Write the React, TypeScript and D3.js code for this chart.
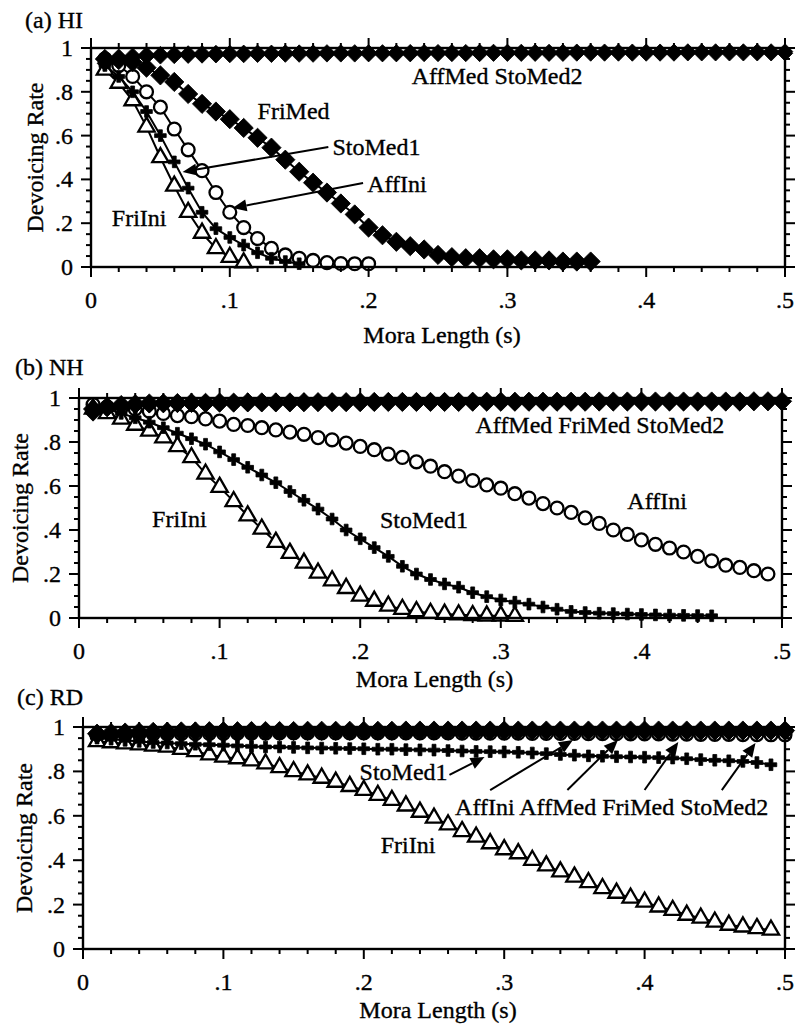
import * as d3 from "d3";

// mora length (s), one point every 10 ms
const moraLength = [
  0.01, 0.02, 0.03, 0.04, 0.05, 0.06, 0.07, 0.08, 0.09, 0.1,
  0.11, 0.12, 0.13, 0.14, 0.15, 0.16, 0.17, 0.18, 0.19, 0.2,
  0.21, 0.22, 0.23, 0.24, 0.25, 0.26, 0.27, 0.28, 0.29, 0.3,
  0.31, 0.32, 0.33, 0.34, 0.35, 0.36, 0.37, 0.38, 0.39, 0.4,
  0.41, 0.42, 0.43, 0.44, 0.45, 0.46, 0.47, 0.48, 0.49, 0.5,
];

const xTicks = [0, 0.1, 0.2, 0.3, 0.4, 0.5];
const xTickLabels = ["0", ".1", ".2", ".3", ".4", ".5"];
const yTicks = [0, 0.2, 0.4, 0.6, 0.8, 1];
const yTickLabels = ["0", ".2", ".4", ".6", ".8", "1"];

// (a) HI
const hiAffIni = [0.95, 0.92, 0.87, 0.8, 0.73, 0.63, 0.535, 0.44, 0.34, 0.25, 0.18, 0.13, 0.085, 0.055, 0.04, 0.03, 0.02, 0.016, 0.015, 0.015];
const hiAffMed = [
  0.95, 0.96, 0.965, 0.97, 0.972, 0.974, 0.975, 0.976, 0.977, 0.977,
  0.978, 0.978, 0.978, 0.979, 0.979, 0.979, 0.98, 0.98, 0.98, 0.98,
  0.98, 0.98, 0.981, 0.981, 0.981, 0.981, 0.981, 0.982, 0.982, 0.982,
  0.982, 0.982, 0.982, 0.982, 0.983, 0.983, 0.983, 0.983, 0.983, 0.983,
  0.983, 0.983, 0.984, 0.984, 0.984, 0.984, 0.984, 0.984, 0.984, 0.984,
];
const hiFriIni = [0.9, 0.84, 0.76, 0.64, 0.5, 0.37, 0.25, 0.155, 0.085, 0.045, 0.02];
const hiFriMed = [
  0.95, 0.945, 0.935, 0.91, 0.875, 0.845, 0.79, 0.745, 0.71, 0.675,
  0.635, 0.59, 0.545, 0.49, 0.435, 0.385, 0.34, 0.29, 0.24, 0.18,
  0.145, 0.115, 0.095, 0.08, 0.055, 0.045, 0.04, 0.04, 0.035, 0.035,
  0.03, 0.03, 0.03, 0.025, 0.025, 0.025,
];
const hiStoMed1 = [0.92, 0.87, 0.8, 0.71, 0.6, 0.48, 0.36, 0.25, 0.175, 0.135, 0.1, 0.065, 0.04, 0.025, 0.015];
const hiStoMed2 = [
  0.93, 0.945, 0.955, 0.96, 0.962, 0.964, 0.965, 0.966, 0.967, 0.968,
  0.968, 0.969, 0.969, 0.97, 0.97, 0.97, 0.971, 0.971, 0.971, 0.972,
  0.972, 0.972, 0.972, 0.973, 0.973, 0.973, 0.973, 0.973, 0.974, 0.974,
  0.974, 0.974, 0.974, 0.974, 0.975, 0.975, 0.975, 0.975, 0.975, 0.975,
  0.975, 0.975, 0.976, 0.976, 0.976, 0.976, 0.976, 0.976, 0.976, 0.976,
];

// (b) NH
const nhAffIni = [
  0.97, 0.96, 0.955, 0.95, 0.94, 0.93, 0.92, 0.915, 0.905, 0.895,
  0.88, 0.875, 0.865, 0.855, 0.845, 0.835, 0.82, 0.81, 0.795, 0.78,
  0.765, 0.745, 0.73, 0.71, 0.69, 0.665, 0.645, 0.625, 0.605, 0.59,
  0.565, 0.545, 0.52, 0.5, 0.48, 0.455, 0.43, 0.4, 0.38, 0.355,
  0.335, 0.318, 0.3, 0.28, 0.26, 0.24, 0.23, 0.215, 0.2,
];
const nhAffMed = [
  0.93, 0.95, 0.96, 0.965, 0.968, 0.97, 0.971, 0.972, 0.973, 0.973,
  0.974, 0.974, 0.975, 0.975, 0.975, 0.975, 0.976, 0.976, 0.976, 0.976,
  0.976, 0.977, 0.977, 0.977, 0.977, 0.977, 0.977, 0.978, 0.978, 0.978,
  0.978, 0.978, 0.978, 0.978, 0.978, 0.979, 0.979, 0.979, 0.979, 0.979,
  0.979, 0.979, 0.979, 0.979, 0.98, 0.98, 0.98, 0.98, 0.98, 0.98,
];
const nhFriIni = [
  0.95, 0.93, 0.905, 0.877, 0.85, 0.82, 0.78, 0.73, 0.655, 0.595,
  0.53, 0.465, 0.405, 0.345, 0.295, 0.25, 0.205, 0.17, 0.135, 0.1,
  0.077, 0.055, 0.04, 0.03, 0.022, 0.018, 0.015, 0.012, 0.01, 0.01,
  0.008,
];
const nhFriMed = [
  0.95, 0.96, 0.968, 0.972, 0.975, 0.976, 0.977, 0.978, 0.978, 0.979,
  0.979, 0.98, 0.98, 0.98, 0.98, 0.981, 0.981, 0.981, 0.981, 0.981,
  0.982, 0.982, 0.982, 0.982, 0.982, 0.982, 0.982, 0.983, 0.983, 0.983,
  0.983, 0.983, 0.983, 0.983, 0.983, 0.983, 0.984, 0.984, 0.984, 0.984,
  0.984, 0.984, 0.984, 0.984, 0.984, 0.984, 0.984, 0.985, 0.985, 0.985,
];
const nhStoMed1 = [
  0.96, 0.95, 0.93, 0.91, 0.89, 0.865, 0.84, 0.815, 0.79, 0.755,
  0.72, 0.685, 0.65, 0.615, 0.575, 0.535, 0.495, 0.45, 0.4, 0.36,
  0.32, 0.28, 0.235, 0.2, 0.175, 0.155, 0.14, 0.115, 0.097, 0.082,
  0.072, 0.063, 0.05, 0.04, 0.03, 0.025, 0.022, 0.02, 0.018, 0.016,
  0.014, 0.013, 0.012, 0.011, 0.01,
];
const nhStoMed2 = [
  0.94, 0.955, 0.963, 0.968, 0.971, 0.973, 0.974, 0.975, 0.976, 0.976,
  0.977, 0.977, 0.978, 0.978, 0.978, 0.979, 0.979, 0.979, 0.979, 0.98,
  0.98, 0.98, 0.98, 0.98, 0.981, 0.981, 0.981, 0.981, 0.981, 0.981,
  0.982, 0.982, 0.982, 0.982, 0.982, 0.982, 0.982, 0.982, 0.983, 0.983,
  0.983, 0.983, 0.983, 0.983, 0.983, 0.983, 0.983, 0.983, 0.984, 0.984,
];

// (c) RD
const rdAffIni = [
  0.96, 0.963, 0.965, 0.967, 0.968, 0.969, 0.97, 0.97, 0.971, 0.971,
  0.972, 0.972, 0.972, 0.973, 0.973, 0.973, 0.973, 0.973, 0.973, 0.973,
  0.973, 0.973, 0.973, 0.973, 0.973, 0.973, 0.972, 0.972, 0.972, 0.972,
  0.972, 0.971, 0.971, 0.971, 0.971, 0.97, 0.97, 0.97, 0.969, 0.969,
  0.969, 0.968, 0.968, 0.967, 0.967, 0.967, 0.966, 0.966, 0.965, 0.965,
];
const rdAffMed = [
  0.96, 0.965, 0.968, 0.97, 0.972, 0.973, 0.974, 0.975, 0.975, 0.976,
  0.976, 0.976, 0.977, 0.977, 0.977, 0.977, 0.977, 0.978, 0.978, 0.978,
  0.978, 0.978, 0.978, 0.978, 0.978, 0.978, 0.978, 0.978, 0.978, 0.978,
  0.978, 0.978, 0.978, 0.978, 0.978, 0.977, 0.977, 0.977, 0.977, 0.977,
  0.977, 0.977, 0.977, 0.976, 0.976, 0.976, 0.976, 0.976, 0.976, 0.975,
];
const rdFriIni = [
  0.935, 0.93, 0.925, 0.92, 0.915, 0.91, 0.9, 0.89, 0.875, 0.865,
  0.858, 0.848, 0.835, 0.818, 0.8, 0.785, 0.77, 0.752, 0.733, 0.715,
  0.693, 0.67, 0.645, 0.617, 0.59, 0.56, 0.53, 0.505, 0.475, 0.448,
  0.43, 0.4, 0.375, 0.348, 0.325, 0.3, 0.273, 0.252, 0.23, 0.212,
  0.19, 0.175, 0.153, 0.14, 0.122, 0.108, 0.1, 0.093, 0.086,
];
const rdFriMed = [
  0.97, 0.973, 0.975, 0.977, 0.978, 0.979, 0.98, 0.98, 0.981, 0.981,
  0.981, 0.982, 0.982, 0.982, 0.982, 0.983, 0.983, 0.983, 0.983, 0.983,
  0.983, 0.983, 0.984, 0.984, 0.984, 0.984, 0.984, 0.984, 0.984, 0.984,
  0.984, 0.984, 0.984, 0.984, 0.984, 0.984, 0.984, 0.984, 0.984, 0.984,
  0.984, 0.984, 0.984, 0.984, 0.984, 0.984, 0.984, 0.984, 0.984, 0.984,
];
const rdStoMed1 = [
  0.95, 0.945, 0.94, 0.935, 0.93, 0.928, 0.925, 0.922, 0.92, 0.918,
  0.915, 0.913, 0.91, 0.91, 0.908, 0.906, 0.905, 0.904, 0.903, 0.902,
  0.9, 0.9, 0.898, 0.897, 0.896, 0.894, 0.892, 0.89, 0.889, 0.888,
  0.886, 0.883, 0.88, 0.876, 0.873, 0.87, 0.868, 0.866, 0.865, 0.864,
  0.862, 0.86, 0.857, 0.853, 0.85, 0.848, 0.845, 0.84, 0.83,
];
const rdStoMed2 = [
  0.965, 0.968, 0.97, 0.972, 0.973, 0.974, 0.975, 0.976, 0.976, 0.977,
  0.977, 0.977, 0.978, 0.978, 0.978, 0.978, 0.979, 0.979, 0.979, 0.979,
  0.979, 0.979, 0.979, 0.98, 0.98, 0.98, 0.98, 0.98, 0.98, 0.98,
  0.98, 0.98, 0.98, 0.98, 0.98, 0.98, 0.98, 0.98, 0.98, 0.98,
  0.98, 0.98, 0.98, 0.98, 0.98, 0.98, 0.98, 0.98, 0.98, 0.98,
];

const FONT = "Liberation Serif, Times New Roman, serif";

// marker look per consonant/position type
const markerStyle = {
  AffIni: { type: d3.symbolCircle, size: 130, fill: "#fff", rot: 0 },
  AffMed: { type: d3.symbolSquare, size: 120, fill: "#000", rot: 45 },
  FriIni: { type: d3.symbolTriangle, size: 115, fill: "#fff", rot: 0 },
  FriMed: { type: d3.symbolSquare, size: 185, fill: "#000", rot: 45 },
  StoMed1: { type: d3.symbolCross, size: 75, fill: "#000", rot: 0 },
  StoMed2: { type: d3.symbolSquare, size: 120, fill: "#000", rot: 45 },
};

// open markers underneath, filled ones on top
const drawOrder = ["AffIni", "FriIni", "StoMed1", "FriMed", "StoMed2", "AffMed"];

const panels = [
  {
    title: "(a) HI", titleX: 25, titleY: 28,
    left: 91, right: 785, top: 48, bottom: 267,
    yTitleX: 43, xTitleY: 343,
    series: { AffIni: hiAffIni, AffMed: hiAffMed, FriIni: hiFriIni, FriMed: hiFriMed, StoMed1: hiStoMed1, StoMed2: hiStoMed2 },
    labels: [
      { text: "AffMed StoMed2", t: 0.231, v: 0.836 },
      { text: "FriMed", t: 0.12, v: 0.676 },
      { text: "StoMed1", t: 0.174, v: 0.511 },
      { text: "AffIni", t: 0.199, v: 0.342 },
      { text: "FriIni", t: 0.015, v: 0.187 },
    ],
    arrows: [
      { from: [0.171, 0.548], to: [0.066, 0.434] },
      { from: [0.196, 0.384], to: [0.102, 0.269] },
    ],
  },
  {
    title: "(b) NH", titleX: 15, titleY: 375,
    left: 79, right: 782, top: 398, bottom: 618,
    yTitleX: 28, xTitleY: 687,
    series: { AffIni: nhAffIni, AffMed: nhAffMed, FriIni: nhFriIni, FriMed: nhFriMed, StoMed1: nhStoMed1, StoMed2: nhStoMed2 },
    labels: [
      { text: "AffMed FriMed StoMed2", t: 0.282, v: 0.841 },
      { text: "AffIni", t: 0.39, v: 0.495 },
      { text: "StoMed1", t: 0.214, v: 0.409 },
      { text: "FriIni", t: 0.052, v: 0.414 },
    ],
    arrows: [],
  },
  {
    title: "(c) RD", titleX: 17, titleY: 705,
    left: 83, right: 785, top: 727, bottom: 949,
    yTitleX: 32, xTitleY: 1018,
    series: { AffIni: rdAffIni, AffMed: rdAffMed, FriIni: rdFriIni, FriMed: rdFriMed, StoMed1: rdStoMed1, StoMed2: rdStoMed2 },
    labels: [
      { text: "StoMed1", t: 0.197, v: 0.761 },
      { text: "FriIni", t: 0.212, v: 0.432 },
      { text: "AffIni AffMed FriMed StoMed2", t: 0.265, v: 0.604 },
    ],
    arrows: [
      { from: [0.261, 0.784], to: [0.286, 0.865] },
      { from: [0.29, 0.716], to: [0.349, 0.941] },
      { from: [0.345, 0.716], to: [0.381, 0.941] },
      { from: [0.4, 0.716], to: [0.424, 0.932] },
      { from: [0.455, 0.716], to: [0.479, 0.928] },
    ],
  },
];

const Panel = ({ p }) => {
  const x = d3.scaleLinear().domain([0, 0.5]).range([p.left, p.right]);
  const y = d3.scaleLinear().domain([0, 1]).range([p.bottom, p.top]);
  const line = d3.line().x((d) => x(d[0])).y((d) => y(d[1]));

  const xMinor = x.ticks(25);
  const yMinor = y.ticks(20);
  const isMajor = (v, step) => Math.abs(v / step - Math.round(v / step)) < 1e-6;
  // scanned text looks a bit heavier than plain Times
  const txt = { fontFamily: FONT, stroke: "#000", strokeWidth: 0.35 };

  return (
    <g>
      <text x={p.titleX} y={p.titleY} fontSize={24} style={txt}>{p.title}</text>

      {/* series */}
      {drawOrder.map((name) => {
        const vals = p.series[name];
        const pts = vals.map((v, i) => [moraLength[i], v]);
        const st = markerStyle[name];
        const sym = d3.symbol().type(st.type).size(st.size)();
        return (
          <g key={name}>
            <path d={line(pts)} fill="none" stroke="#000" strokeWidth={2} />
            {pts.map((d, i) => (
              <path
                key={i}
                d={sym}
                transform={`translate(${x(d[0])},${y(d[1])}) rotate(${st.rot})`}
                fill={st.fill}
                stroke="#000"
                strokeWidth={st.fill === "#fff" ? 2.3 : 0.8}
              />
            ))}
          </g>
        );
      })}

      {/* frame + ticks */}
      <rect x={p.left} y={p.top} width={p.right - p.left} height={p.bottom - p.top} fill="none" stroke="#000" strokeWidth={2.4} />
      {xMinor.map((v) => {
        const len = isMajor(v, 0.1) ? 10 : 5;
        return (
          <g key={"x" + v}>
            <line x1={x(v)} x2={x(v)} y1={p.bottom} y2={p.bottom + len} stroke="#000" strokeWidth={2} />
            <line x1={x(v)} x2={x(v)} y1={p.top} y2={p.top - len} stroke="#000" strokeWidth={2} />
          </g>
        );
      })}
      {yMinor.map((v) => {
        const len = isMajor(v, 0.2) ? 10 : 5;
        return (
          <g key={"y" + v}>
            <line x1={p.left} x2={p.left - len} y1={y(v)} y2={y(v)} stroke="#000" strokeWidth={2} />
            <line x1={p.right} x2={p.right + len} y1={y(v)} y2={y(v)} stroke="#000" strokeWidth={2} />
          </g>
        );
      })}

      {/* tick labels */}
      {xTicks.map((v, i) => (
        <text key={"xl" + i} x={x(v)} y={p.bottom + 41} fontSize={24} textAnchor="middle" style={txt}>{xTickLabels[i]}</text>
      ))}
      {yTicks.map((v, i) => (
        <text key={"yl" + i} x={p.left - 18} y={y(v) + 8} fontSize={24} textAnchor="end" style={txt}>{yTickLabels[i]}</text>
      ))}

      {/* axis titles */}
      <text x={(p.left + p.right) / 2 + 4} y={p.xTitleY} fontSize={24} textAnchor="middle" style={txt}>Mora Length (s)</text>
      <text
        transform={`translate(${p.yTitleX},${(p.top + p.bottom) / 2}) rotate(-90)`}
        fontSize={24}
        textAnchor="middle"
        style={txt}
      >
        Devoicing Rate
      </text>

      {/* curve labels */}
      {p.labels.map((l, i) => (
        <text key={"lb" + i} x={x(l.t)} y={y(l.v)} fontSize={24} style={txt}>{l.text}</text>
      ))}
      {p.arrows.map((a, i) => {
        const x1 = x(a.from[0]), y1 = y(a.from[1]);
        const x2 = x(a.to[0]), y2 = y(a.to[1]);
        const ang = Math.atan2(y2 - y1, x2 - x1);
        const hl = 14, hw = 6;
        const bx = x2 - hl * Math.cos(ang), by = y2 - hl * Math.sin(ang);
        const head = [
          [x2, y2],
          [bx + hw * Math.sin(ang), by - hw * Math.cos(ang)],
          [bx - hw * Math.sin(ang), by + hw * Math.cos(ang)],
        ];
        return (
          <g key={"ar" + i}>
            <line x1={x1} y1={y1} x2={bx} y2={by} stroke="#000" strokeWidth={2} />
            <polygon points={head.map((h) => h.join(",")).join(" ")} fill="#000" />
          </g>
        );
      })}
    </g>
  );
};

export default function App() {
  return (
    <div style={{ position: "absolute", left: 0, top: 0, fontFamily: FONT }}>
      <svg width={797} height={1026} style={{ display: "block", background: "#fff", fontFamily: FONT }}>
        {panels.map((p, i) => (
          <Panel key={i} p={p} />
        ))}
      </svg>
    </div>
  );
}
